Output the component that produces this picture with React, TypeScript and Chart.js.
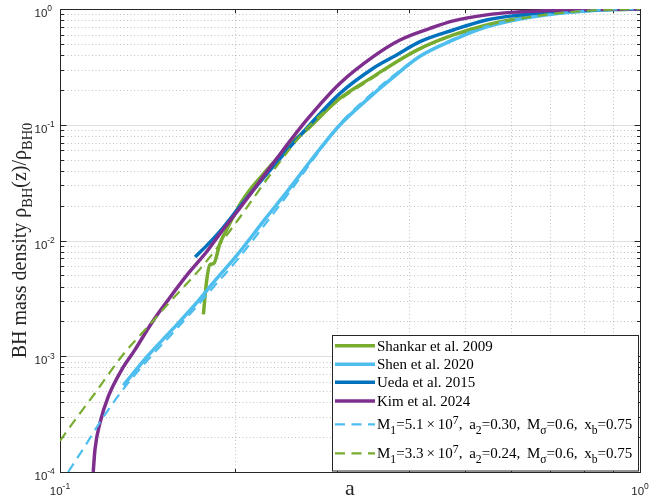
import React, { useEffect, useRef } from "react";
import { Chart, registerables } from "chart.js";

Chart.register(...registerables);

// ---------------- data ----------------
const xTickExps = [-1, 0];
const yTickExps = [-4, -3, -2, -1, 0];

const shankarA = [0.1767, 0.179, 0.1814, 0.184, 0.1888, 0.1925, 0.2043, 0.2127, 0.222, 0.2332, 0.2525, 0.2663, 0.304, 0.3468, 0.3806, 0.4175, 0.4766, 0.544, 0.621, 0.709, 0.809, 0.9, 1.0];
const shankarRho = [0.0023, 0.0045, 0.0062, 0.0063, 0.0095, 0.0116, 0.0205, 0.0275, 0.0355, 0.047, 0.072, 0.0904, 0.1696, 0.2606, 0.351, 0.455, 0.597, 0.728, 0.831, 0.918, 0.967, 0.99, 1.0];

const shenA = [0.1286, 0.142, 0.1558, 0.171, 0.185, 0.2016, 0.2257, 0.2492, 0.277, 0.304, 0.3379, 0.3707, 0.4175, 0.4766, 0.544, 0.621, 0.709, 0.809, 0.9, 1.0];
const shenRho = [0.00056, 0.00102, 0.00168, 0.0028, 0.0045, 0.0074, 0.0153, 0.0285, 0.057, 0.1, 0.164, 0.244, 0.39, 0.54, 0.7, 0.82, 0.905, 0.96, 0.99, 1.0];

const uedaA = [0.171, 0.18, 0.19, 0.2043, 0.2332, 0.2663, 0.304, 0.3468, 0.3806, 0.4175, 0.4766, 0.544, 0.621, 0.709, 0.809, 0.9, 1.0];
const uedaRho = [0.0072, 0.0093, 0.0125, 0.0197, 0.0436, 0.0934, 0.187, 0.308, 0.401, 0.522, 0.659, 0.804, 0.888, 0.948, 0.98, 0.995, 1.0];

const kimA = [0.1141, 0.1149, 0.1172, 0.1212, 0.1278, 0.1347, 0.1439, 0.1537, 0.1664, 0.179, 0.19, 0.2043, 0.2332, 0.2663, 0.304, 0.3468, 0.3857, 0.4345, 0.4766, 0.544, 0.6, 0.7, 0.8, 0.9, 1.0];
const kimRho = [0.0001, 0.000157, 0.000266, 0.000452, 0.000767, 0.00114, 0.00194, 0.00308, 0.0052, 0.008, 0.012, 0.0191, 0.0466, 0.11, 0.2285, 0.388, 0.54, 0.68, 0.79, 0.89, 0.935, 0.97, 0.988, 0.997, 1.0];

const modelBlueA = [0.1033, 0.1104, 0.118, 0.1278, 0.142, 0.1558, 0.171, 0.185, 0.2016, 0.2257, 0.2492, 0.277, 0.304, 0.3379, 0.3707, 0.4175, 0.4766, 0.544, 0.621, 0.709, 0.809, 0.9, 1.0];
const modelBlueRho = [0.0001, 0.000167, 0.000284, 0.0005, 0.00094, 0.00155, 0.0026, 0.0041, 0.0067, 0.0138, 0.0265, 0.055, 0.102, 0.17, 0.252, 0.39, 0.55, 0.71, 0.825, 0.91, 0.965, 0.99, 1.0];

const modelGreenA = [0.1, 0.1061, 0.1149, 0.1278, 0.142, 0.1548, 0.1767, 0.2016, 0.2302, 0.27, 0.304, 0.3468, 0.3806, 0.4175, 0.4766, 0.544, 0.621, 0.709, 0.809, 0.9, 1.0];
const modelGreenRho = [0.000186, 0.000281, 0.000479, 0.001, 0.00182, 0.00296, 0.00614, 0.0145, 0.0368, 0.1, 0.165, 0.255, 0.35, 0.455, 0.59, 0.72, 0.825, 0.91, 0.965, 0.99, 1.0];

const seriesLabels = [
  "Shankar et al. 2009",
  "Shen et al. 2020",
  "Ueda et al. 2015",
  "Kim et al. 2024",
  "M_{1}=5.1\u2009\u00d7\u200910^{7},\u2009 a_{2}=0.30,\u2009 M_{\u03c3}=0.6,\u2009 x_{b}=0.75",
  "M_{1}=3.3\u2009\u00d7\u200910^{7},\u2009 a_{2}=0.24,\u2009 M_{\u03c3}=0.6,\u2009 x_{b}=0.75",
];
const xTitle = "a";
const yTitle = "BH mass density \u03c1_{BH}(z)/\u03c1_{BH0}";

// ---------------- styles ----------------
const GREEN = "#77AC30";
const LBLUE = "#4DBEEE";
const DBLUE = "#0072BD";
const PURPLE = "#7E2F8E";
const AXIS = "#262626";
const SANS = "'Liberation Sans', Arial, sans-serif";
const SERIF = "'Liberation Serif', 'Times New Roman', serif";
const DASH = [10, 6.5];

type Seg = { t: string; m: "" | "sub" | "sup" };
function parseTex(s: string): Seg[] {
  const out: Seg[] = [];
  let buf = "";
  let i = 0;
  while (i < s.length) {
    const c = s[i];
    if (c === "_" || c === "^") {
      if (buf) { out.push({ t: buf, m: "" }); buf = ""; }
      let t = "";
      if (s[i + 1] === "{") {
        const j = s.indexOf("}", i + 2);
        t = s.slice(i + 2, j);
        i = j + 1;
      } else { t = s[i + 1]; i += 2; }
      out.push({ t, m: c === "_" ? "sub" : "sup" });
    } else { buf += c; i++; }
  }
  if (buf) out.push({ t: buf, m: "" });
  return out;
}

function drawRich(ctx: CanvasRenderingContext2D, s: string, x: number, y: number, o: { size: number; family: string; align?: string; scale?: number; sub?: number; sup?: number; color?: string }) {
  const segs = parseTex(s);
  const scale = o.scale ?? 0.72;
  const subOff = o.sub ?? 0.3;
  const supOff = o.sup ?? 0.42;
  const widths = segs.map((g) => {
    const fs = g.m ? o.size * scale : o.size;
    ctx.font = `${fs}px ${o.family}`;
    return ctx.measureText(g.t).width;
  });
  const total = widths.reduce((a, b) => a + b, 0);
  let cx = o.align === "center" ? x - total / 2 : o.align === "right" ? x - total : x;
  ctx.fillStyle = o.color ?? AXIS;
  ctx.textBaseline = "alphabetic";
  ctx.textAlign = "left";
  segs.forEach((g, k) => {
    const fs = g.m ? o.size * scale : o.size;
    ctx.font = `${fs}px ${o.family}`;
    const dy = g.m === "sub" ? o.size * subOff : g.m === "sup" ? -o.size * supOff : 0;
    ctx.fillText(g.t, cx, y + dy);
    cx += widths[k];
  });
  return total;
}

const crisp = (v: number) => Math.round(v) + 0.5;

const axesPlugin = {
  id: "matlabAxes",
  beforeDatasetsDraw(chart: any) {
    const { ctx, chartArea: ca, scales } = chart;
    const xs = scales.x, ys = scales.y;
    const L = crisp(ca.left), R = crisp(ca.right), T = crisp(ca.top), B = crisp(ca.bottom);
    ctx.save();
    const yMinor: number[] = [];
    for (let e = -4; e < 0; e++) for (let k = 2; k <= 9; k++) yMinor.push(k * Math.pow(10, e));
    const xMinor: number[] = [];
    for (let k = 2; k <= 9; k++) xMinor.push(k / 10);
    // minor grid (dotted)
    ctx.lineWidth = 1;
    ctx.strokeStyle = "rgba(38,38,38,0.28)";
    ctx.setLineDash([1, 2.5]);
    ctx.beginPath();
    yMinor.forEach((v) => { const p = crisp(ys.getPixelForValue(v)); ctx.moveTo(L, p); ctx.lineTo(R, p); });
    xMinor.forEach((v) => { const p = crisp(xs.getPixelForValue(v)); ctx.moveTo(p, T); ctx.lineTo(p, B); });
    ctx.stroke();
    // major grid (solid)
    ctx.setLineDash([]);
    ctx.strokeStyle = "rgba(38,38,38,0.15)";
    ctx.beginPath();
    yTickExps.slice(1, -1).forEach((e) => { const p = crisp(ys.getPixelForValue(Math.pow(10, e))); ctx.moveTo(L, p); ctx.lineTo(R, p); });
    ctx.stroke();
    // ticks
    ctx.strokeStyle = AXIS;
    ctx.beginPath();
    yTickExps.forEach((e) => {
      const p = crisp(ys.getPixelForValue(Math.pow(10, e)));
      ctx.moveTo(L, p); ctx.lineTo(L + 6, p);
      ctx.moveTo(R, p); ctx.lineTo(R - 6, p);
    });
    yMinor.forEach((v) => {
      const p = crisp(ys.getPixelForValue(v));
      ctx.moveTo(L, p); ctx.lineTo(L + 3.5, p);
      ctx.moveTo(R, p); ctx.lineTo(R - 3.5, p);
    });
    xMinor.forEach((v) => {
      const p = crisp(xs.getPixelForValue(v));
      ctx.moveTo(p, B); ctx.lineTo(p, B - 3.5);
      ctx.moveTo(p, T); ctx.lineTo(p, T + 3.5);
    });
    ctx.stroke();
    // box
    ctx.strokeRect(L, T, R - L, B - T);
    // tick labels
    yTickExps.forEach((e) => {
      const p = ys.getPixelForValue(Math.pow(10, e));
      drawRich(ctx, `10^{${e}}`, 34.5, p + 8, { size: 11.5, family: SANS, scale: 0.74, sup: 0.48 });
    });
    xTickExps.forEach((e) => {
      const p = xs.getPixelForValue(Math.pow(10, e));
      drawRich(ctx, `10^{${e}}`, p, ca.bottom + 23, { size: 11.5, family: SANS, align: "center", scale: 0.74, sup: 0.48 });
    });
    // axis titles
    drawRich(ctx, xTitle, (ca.left + ca.right) / 2, ca.bottom + 23, { size: 22, family: SERIF, align: "center" });
    ctx.save();
    ctx.translate(26, (ca.top + ca.bottom) / 2);
    ctx.rotate(-Math.PI / 2);
    drawRich(ctx, yTitle, 0, 0, { size: 20, family: SERIF, align: "center", scale: 0.72, sub: 0.3 });
    ctx.restore();
    ctx.restore();
  },
  afterDraw(chart: any) {
    const { ctx, chartArea: ca } = chart;
    const lx = 332.5, ly = 335.5;
    const lw = ca.right - 1.5 - lx, lh = ca.bottom - 1 - ly;
    const rows = [345.7, 364.3, 382.3, 401, 424.3, 453.3];
    ctx.save();
    ctx.fillStyle = "#ffffff";
    ctx.fillRect(lx, ly, lw, lh);
    ctx.strokeStyle = AXIS;
    ctx.lineWidth = 1;
    ctx.strokeRect(lx, ly, lw, lh);
    chart.data.datasets.forEach((ds: any, i: number) => {
      const y = rows[i];
      ctx.beginPath();
      ctx.strokeStyle = ds.borderColor;
      ctx.lineWidth = ds.borderWidth;
      ctx.setLineDash(ds.borderDash || []);
      ctx.moveTo(335, y);
      ctx.lineTo(375, y);
      ctx.stroke();
      ctx.setLineDash([]);
      drawRich(ctx, ds.label, 377, y + 5, { size: 15, family: SERIF, scale: 0.78, sub: 0.3, sup: 0.36, color: "#000" });
    });
    ctx.restore();
  },
};

function pts(a: number[], r: number[]) {
  return a.map((x, i) => ({ x, y: r[i] }));
}

export default function App() {
  const ref = useRef<HTMLCanvasElement | null>(null);
  useEffect(() => {
    document.body.style.margin = "0";
    document.body.style.overflow = "hidden";
    const canvas = ref.current!;
    const mk = (i: number, a: number[], r: number[], color: string, dashed: boolean) => ({
      label: seriesLabels[i],
      data: pts(a, r),
      borderColor: color,
      backgroundColor: color,
      borderWidth: dashed ? 2.2 : 3.5,
      borderDash: dashed ? DASH : [],
      borderJoinStyle: "round",
      borderCapStyle: "butt",
      pointRadius: 0,
      fill: false,
      cubicInterpolationMode: "monotone",
      order: 10 - i,
      clip: 0,
    });
    const chart = new Chart(canvas, {
      type: "line",
      data: {
        datasets: [
          mk(0, shankarA, shankarRho, GREEN, false),
          mk(1, shenA, shenRho, LBLUE, false),
          mk(2, uedaA, uedaRho, DBLUE, false),
          mk(3, kimA, kimRho, PURPLE, false),
          mk(4, modelBlueA, modelBlueRho, LBLUE, true),
          mk(5, modelGreenA, modelGreenRho, GREEN, true),
        ] as any,
      },
      options: {
        responsive: false,
        animation: false,
        devicePixelRatio: 1,
        layout: { padding: { left: 60, right: 11, top: 9, bottom: 32 } },
        plugins: { legend: { display: false }, tooltip: { enabled: false } },
        scales: {
          x: { type: "logarithmic", min: 0.1, max: 1, display: false },
          y: { type: "logarithmic", min: 1e-4, max: 1, display: false },
        },
      } as any,
      plugins: [axesPlugin as any],
    });
    return () => chart.destroy();
  }, []);
  return (
    <div style={{ width: 651, height: 504, background: "#fff" }}>
      <canvas ref={ref} width={651} height={504} style={{ display: "block", width: 651, height: 504 }} />
    </div>
  );
}
